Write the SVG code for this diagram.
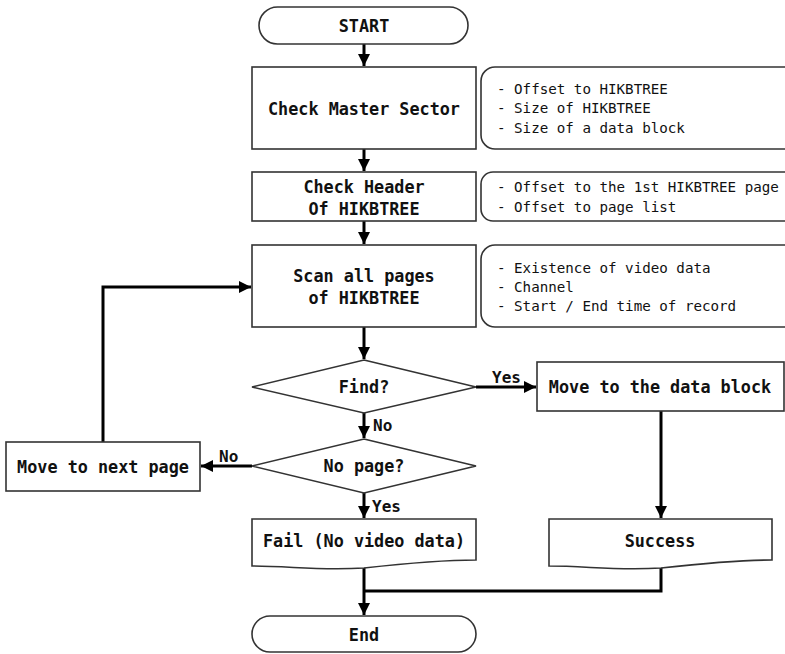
<svg xmlns="http://www.w3.org/2000/svg" width="785" height="654" viewBox="0 0 785 654">
<defs>
<style>
.box{fill:#fff;stroke:#333;stroke-width:1.6}
.info{fill:#fff;stroke:#333;stroke-width:1.6}
.t{font-family:"DejaVu Sans Mono","Liberation Mono",monospace;font-weight:bold;font-size:16.8px;fill:#111;text-anchor:middle}
.s{font-family:"DejaVu Sans Mono","Liberation Mono",monospace;font-size:14.2px;fill:#111}
.l{font-family:"DejaVu Sans Mono","Liberation Mono",monospace;font-weight:bold;font-size:16px;fill:#111}
.c{fill:none;stroke:#000;stroke-width:3}
</style>
<marker id="ah" viewBox="0 0 10 10" refX="10" refY="5" markerWidth="4" markerHeight="4" orient="auto" markerUnits="strokeWidth">
<path d="M0,0 L10,5 L0,10 Z" fill="#000"/>
</marker>
</defs>
<rect width="785" height="654" fill="#fff"/>

<g id="connectors">
<line class="c" x1="364" y1="44" x2="364" y2="66" marker-end="url(#ah)"/>
<line class="c" x1="364" y1="149" x2="364" y2="171" marker-end="url(#ah)"/>
<line class="c" x1="364" y1="221" x2="364" y2="244" marker-end="url(#ah)"/>
<line class="c" x1="364" y1="327" x2="364" y2="359" marker-end="url(#ah)"/>
<line class="c" x1="476" y1="387" x2="536" y2="387" marker-end="url(#ah)"/>
<line class="c" x1="364" y1="413" x2="364" y2="438" marker-end="url(#ah)"/>
<line class="c" x1="252" y1="466" x2="201" y2="466" marker-end="url(#ah)"/>
<polyline class="c" points="103,442 103,287 251,287" marker-end="url(#ah)"/>
<line class="c" x1="364" y1="493" x2="364" y2="518" marker-end="url(#ah)"/>
<line class="c" x1="661" y1="411" x2="661" y2="518" marker-end="url(#ah)"/>
<line class="c" x1="364" y1="567" x2="364" y2="615" marker-end="url(#ah)"/>
<polyline class="c" points="661,565 661,591 364,591"/>
<text class="l" x="492" y="383">Yes</text>
<text class="l" x="373" y="431">No</text>
<text class="l" x="219" y="462">No</text>
<text class="l" x="372" y="512">Yes</text>
</g>

<g id="start">
<rect class="box" x="259" y="7" width="209" height="37" rx="18.5"/>
<text class="t" x="364" y="32">START</text>
</g>

<g id="checkMaster">
<rect class="box" x="252" y="67" width="224" height="82"/>
<text class="t" x="364" y="115">Check Master Sector</text>
</g>
<g id="infoMaster">
<rect class="info" x="481" y="67" width="320" height="82" rx="14"/>
<text class="s" x="497" y="94">- Offset to HIKBTREE</text>
<text class="s" x="497" y="113">- Size of HIKBTREE</text>
<text class="s" x="497" y="133">- Size of a data block</text>
</g>

<g id="checkHeader">
<rect class="box" x="252" y="172" width="224" height="49"/>
<text class="t" x="364" y="193">Check Header</text>
<text class="t" x="364" y="215">Of HIKBTREE</text>
</g>
<g id="infoHeader">
<rect class="info" x="481" y="172" width="320" height="49" rx="12"/>
<text class="s" x="497" y="192">- Offset to the 1st HIKBTREE page</text>
<text class="s" x="497" y="212">- Offset to page list</text>
</g>

<g id="scan">
<rect class="box" x="252" y="245" width="224" height="82"/>
<text class="t" x="364" y="282">Scan all pages</text>
<text class="t" x="364" y="304">of HIKBTREE</text>
</g>
<g id="infoScan">
<rect class="info" x="481" y="245" width="320" height="82" rx="14"/>
<text class="s" x="497" y="273">- Existence of video data</text>
<text class="s" x="497" y="292">- Channel</text>
<text class="s" x="497" y="311">- Start / End time of record</text>
</g>

<g id="find">
<polygon class="box" points="364,360 476,387 364,413 252,387"/>
<text class="t" x="364" y="393">Find?</text>
</g>

<g id="moveData">
<rect class="box" x="537" y="362" width="247" height="49"/>
<text class="t" x="660" y="393">Move to the data block</text>
</g>

<g id="noPage">
<polygon class="box" points="364,439 476,466 364,493 252,466"/>
<text class="t" x="364" y="472">No page?</text>
</g>

<g id="moveNext">
<rect class="box" x="6" y="442" width="194" height="49"/>
<text class="t" x="103" y="473">Move to next page</text>
</g>

<g id="fail">
<path class="box" d="M252,519 H476 V560 C440,560 400,564 364,568 C320,571 290,566 252,566 Z"/>
<text class="t" x="364" y="547">Fail (No video data)</text>
</g>

<g id="success">
<path class="box" d="M549,519 H772 V560 C736,560 697,564 661,568 C617,571 587,566 549,566 Z"/>
<text class="t" x="660" y="547">Success</text>
</g>

<g id="end">
<rect class="box" x="252" y="616" width="224" height="36" rx="18"/>
<text class="t" x="364" y="641">End</text>
</g>
</svg>
